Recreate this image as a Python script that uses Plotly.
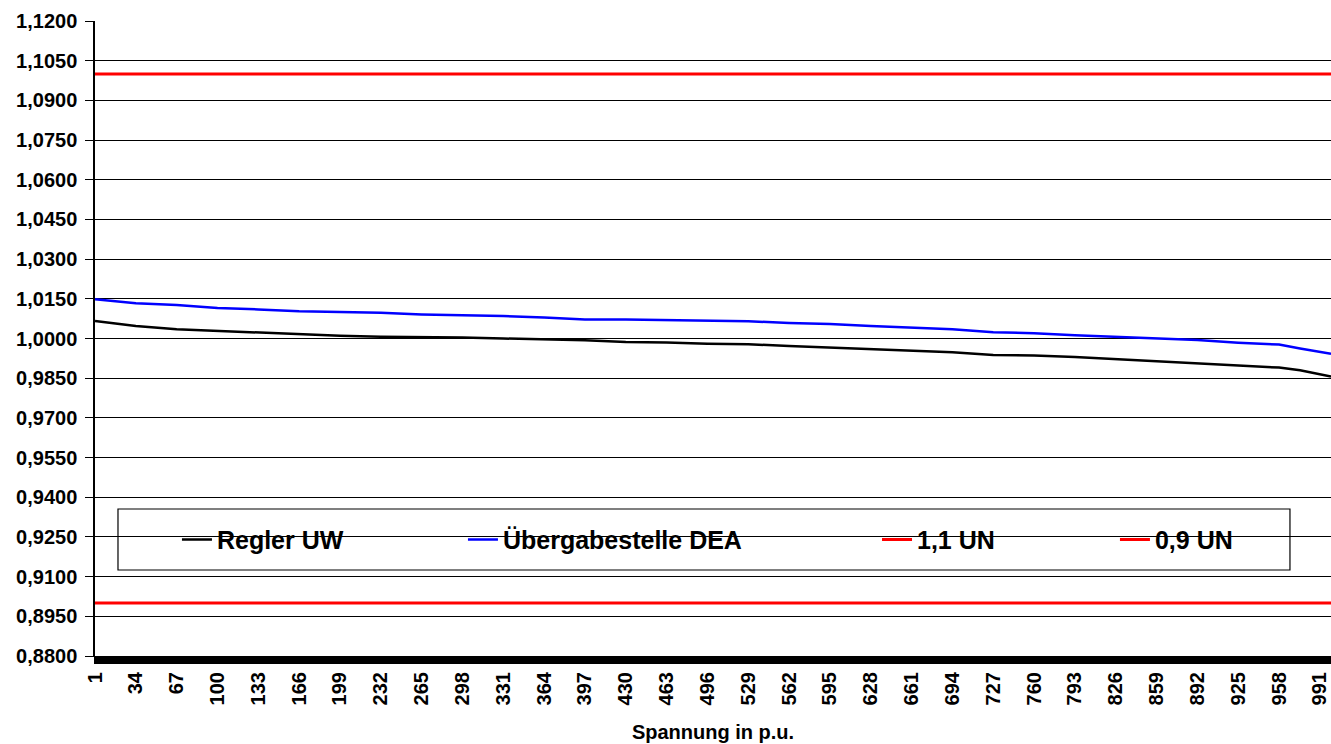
import plotly.graph_objects as go

# Categories sampled along the x axis (category numbers 1..1000)
sample_cats = [1, 34, 67, 100, 133, 166, 199, 232, 265, 298, 331, 364, 397, 430, 463,
               496, 529, 562, 595, 628, 661, 694, 727, 760, 793, 826, 859, 892, 925,
               958, 975, 991, 1000]

regler_uw = [1.0066, 1.0047, 1.0035, 1.0029, 1.0022, 1.0016, 1.0010, 1.0007, 1.0006,
             1.0004, 1.0000, 0.9997, 0.9993, 0.9987, 0.9985, 0.9980, 0.9978, 0.9972,
             0.9966, 0.9960, 0.9955, 0.9948, 0.9938, 0.9936, 0.9930, 0.9922, 0.9915,
             0.9905, 0.9899, 0.9890, 0.9880, 0.9866, 0.9856]

uebergabe_dea = [1.0148, 1.0133, 1.0127, 1.0115, 1.0110, 1.0103, 1.0100, 1.0097, 1.0091,
                 1.0088, 1.0085, 1.0079, 1.0072, 1.0072, 1.0069, 1.0066, 1.0065, 1.0059,
                 1.0055, 1.0047, 1.0041, 1.0035, 1.0024, 1.0020, 1.0012, 1.0006, 1.0002,
                 0.9994, 0.9984, 0.9977, 0.9962, 0.9950, 0.9942]

limit_cats = [1, 1000]
limit_high = [1.1, 1.1]
limit_low = [0.9, 0.9]

x_tick_labels = list(range(1, 1000, 33))

FONT = "Liberation Sans, Arial, sans-serif"

fig = go.Figure()
fig.add_trace(go.Scatter(x=sample_cats, y=regler_uw, mode="lines", name="Regler UW",
                         line=dict(color="#000000", width=2.5), legend="legend"))
fig.add_trace(go.Scatter(x=sample_cats, y=uebergabe_dea, mode="lines", name="Übergabestelle DEA",
                         line=dict(color="#0000FF", width=2.5), legend="legend2"))
fig.add_trace(go.Scatter(x=limit_cats, y=limit_high, mode="lines", name="1,1 UN",
                         line=dict(color="#FF0000", width=3), legend="legend3"))
fig.add_trace(go.Scatter(x=limit_cats, y=limit_low, mode="lines", name="0,9 UN",
                         line=dict(color="#FF0000", width=3), legend="legend4"))

leg_common = dict(orientation="h", xanchor="left", yanchor="middle", y=0.183,
                  bgcolor="rgba(0,0,0,0)", borderwidth=0,
                  font=dict(family=FONT, size=25, color="#000", weight="bold"))

fig.update_layout(
    width=1331, height=744,
    margin=dict(l=95, r=0, t=21, b=88),
    paper_bgcolor="white", plot_bgcolor="white",
    separators=",.",
    font=dict(family=FONT, color="#000"),
    showlegend=True,
    legend=dict(x=0.0663, **leg_common),
    legend2=dict(x=0.2977, **leg_common),
    legend3=dict(x=0.6327, **leg_common),
    legend4=dict(x=0.8252, **leg_common),
    xaxis=dict(
        range=[1, 1000],
        tickmode="array", tickvals=x_tick_labels, ticktext=[str(v) for v in x_tick_labels],
        tickangle=-90, ticks="outside", ticklen=7, tickwidth=2, tickcolor="#000",
        minor=dict(dtick=1, tick0=0, ticks="outside", ticklen=7, tickwidth=2, tickcolor="#000",
                   showgrid=False),
        showgrid=False, zeroline=False,
        showline=True, linecolor="#000", linewidth=1,
        tickfont=dict(family=FONT, size=20, color="#000", weight="bold"),
        title=dict(text="Spannung in p.u.", standoff=20,
                   font=dict(family=FONT, size=20, color="#000", weight="bold")),
    ),
    yaxis=dict(
        range=[0.88, 1.12], tick0=0.88, dtick=0.015, tickformat=".4f",
        ticks="outside", ticklen=8, tickcolor="#000", ticklabelstandoff=4,
        showgrid=True, gridcolor="#000", gridwidth=1, zeroline=False,
        showline=True, linecolor="#000", linewidth=1.5,
        tickfont=dict(family=FONT, size=20, color="#000", weight="bold"),
    ),
    shapes=[dict(type="rect", xref="paper", yref="paper",
                 x0=0.0186, x1=0.9668, y0=0.1354, y1=0.2315,
                 fillcolor="white", line=dict(color="#000", width=1.2), layer="below")],
)

fig.write_html("out.html")
